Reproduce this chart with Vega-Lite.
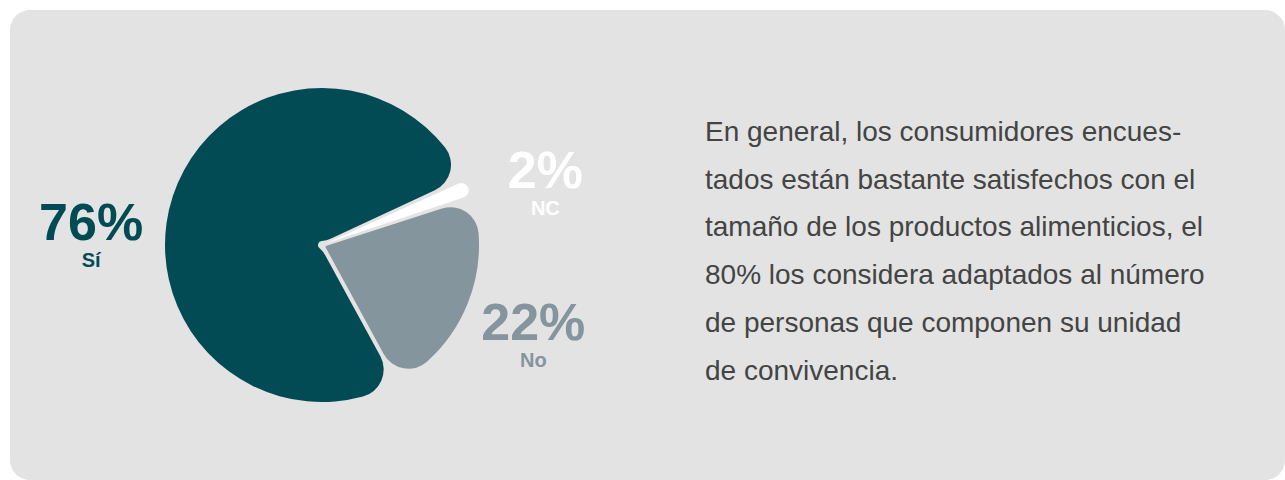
{
  "$schema": "https://vega.github.io/schema/vega-lite/v6.json",
  "width": 1275,
  "height": 470,
  "autosize": {"type": "none"},
  "padding": {"left": 10, "top": 10, "right": 0, "bottom": 0},
  "background": "#ffffff",
  "config": {"view": {"fill": "#e2e3e2", "stroke": null, "cornerRadius": 20}},
  "datasets": {
    "respuestas": [
      {"categoria": "Sí", "valor": 0.76, "panel": "gráfico"},
      {"categoria": "No", "valor": 0.22, "panel": "gráfico"},
      {"categoria": "NC", "valor": 0.02, "panel": "gráfico"}
    ],
    "parrafo": [
      {"panel": "texto", "texto": "En general, los consumidores encues-\ntados están bastante satisfechos con el\ntamaño de los productos alimenticios, el\n80% los considera adaptados al número\nde personas que componen su unidad\nde convivencia."}
    ]
  },
  "layer": [
    {
      "data": {"name": "respuestas"},
      "mark": {"type": "arc", "outerRadius": 157, "innerRadius": 4, "cornerRadius": 28, "padAngle": 0.026},
      "encoding": {
        "x": {"field": "panel", "type": "nominal", "axis": null,
              "scale": {"type": "point", "domain": ["gráfico", "texto"], "range": [312, 695], "padding": 0}},
        "theta": {"field": "valor", "type": "quantitative", "stack": true, "scale": {"range": [1.1345, 7.4176]}},
        "color": {"field": "categoria", "type": "nominal", "legend": null,
                  "scale": {"domain": ["NC", "No", "Sí"], "range": ["#ffffff", "#84959e", "#024b55"]}},
        "order": {"field": "categoria", "type": "nominal", "sort": "ascending"}
      }
    },
    {
      "data": {"name": "respuestas"},
      "mark": {"type": "text", "font": "Liberation Sans", "fontWeight": "bold", "fontSize": 52, "baseline": "middle", "align": "center", "dy": -14.5, "radius": 231},
      "encoding": {
        "x": {"field": "panel", "type": "nominal"},
        "theta": {"field": "valor", "type": "quantitative", "stack": true, "scale": {"range": [1.2566, 6.8766]}},
        "text": {"field": "valor", "type": "quantitative", "format": ".0%"},
        "color": {"field": "categoria", "type": "nominal", "legend": null},
        "order": {"field": "categoria", "type": "nominal", "sort": "ascending"}
      }
    },
    {
      "data": {"name": "respuestas"},
      "mark": {"type": "text", "font": "Liberation Sans", "fontWeight": "bold", "fontSize": 20, "baseline": "middle", "align": "center", "dy": 23, "radius": 231},
      "encoding": {
        "x": {"field": "panel", "type": "nominal"},
        "theta": {"field": "valor", "type": "quantitative", "stack": true, "scale": {"range": [1.2566, 6.8766]}},
        "text": {"field": "categoria", "type": "nominal"},
        "color": {"field": "categoria", "type": "nominal", "legend": null},
        "order": {"field": "categoria", "type": "nominal", "sort": "ascending"}
      }
    },
    {
      "data": {"name": "parrafo"},
      "mark": {"type": "text", "align": "left", "baseline": "middle", "lineBreak": "\n", "lineHeight": 47.7, "fontSize": 28, "font": "Liberation Sans", "color": "#444444", "dy": -112},
      "encoding": {
        "x": {"field": "panel", "type": "nominal"},
        "text": {"field": "texto", "type": "nominal"}
      }
    }
  ],
  "resolve": {"scale": {"theta": "independent"}}
}
